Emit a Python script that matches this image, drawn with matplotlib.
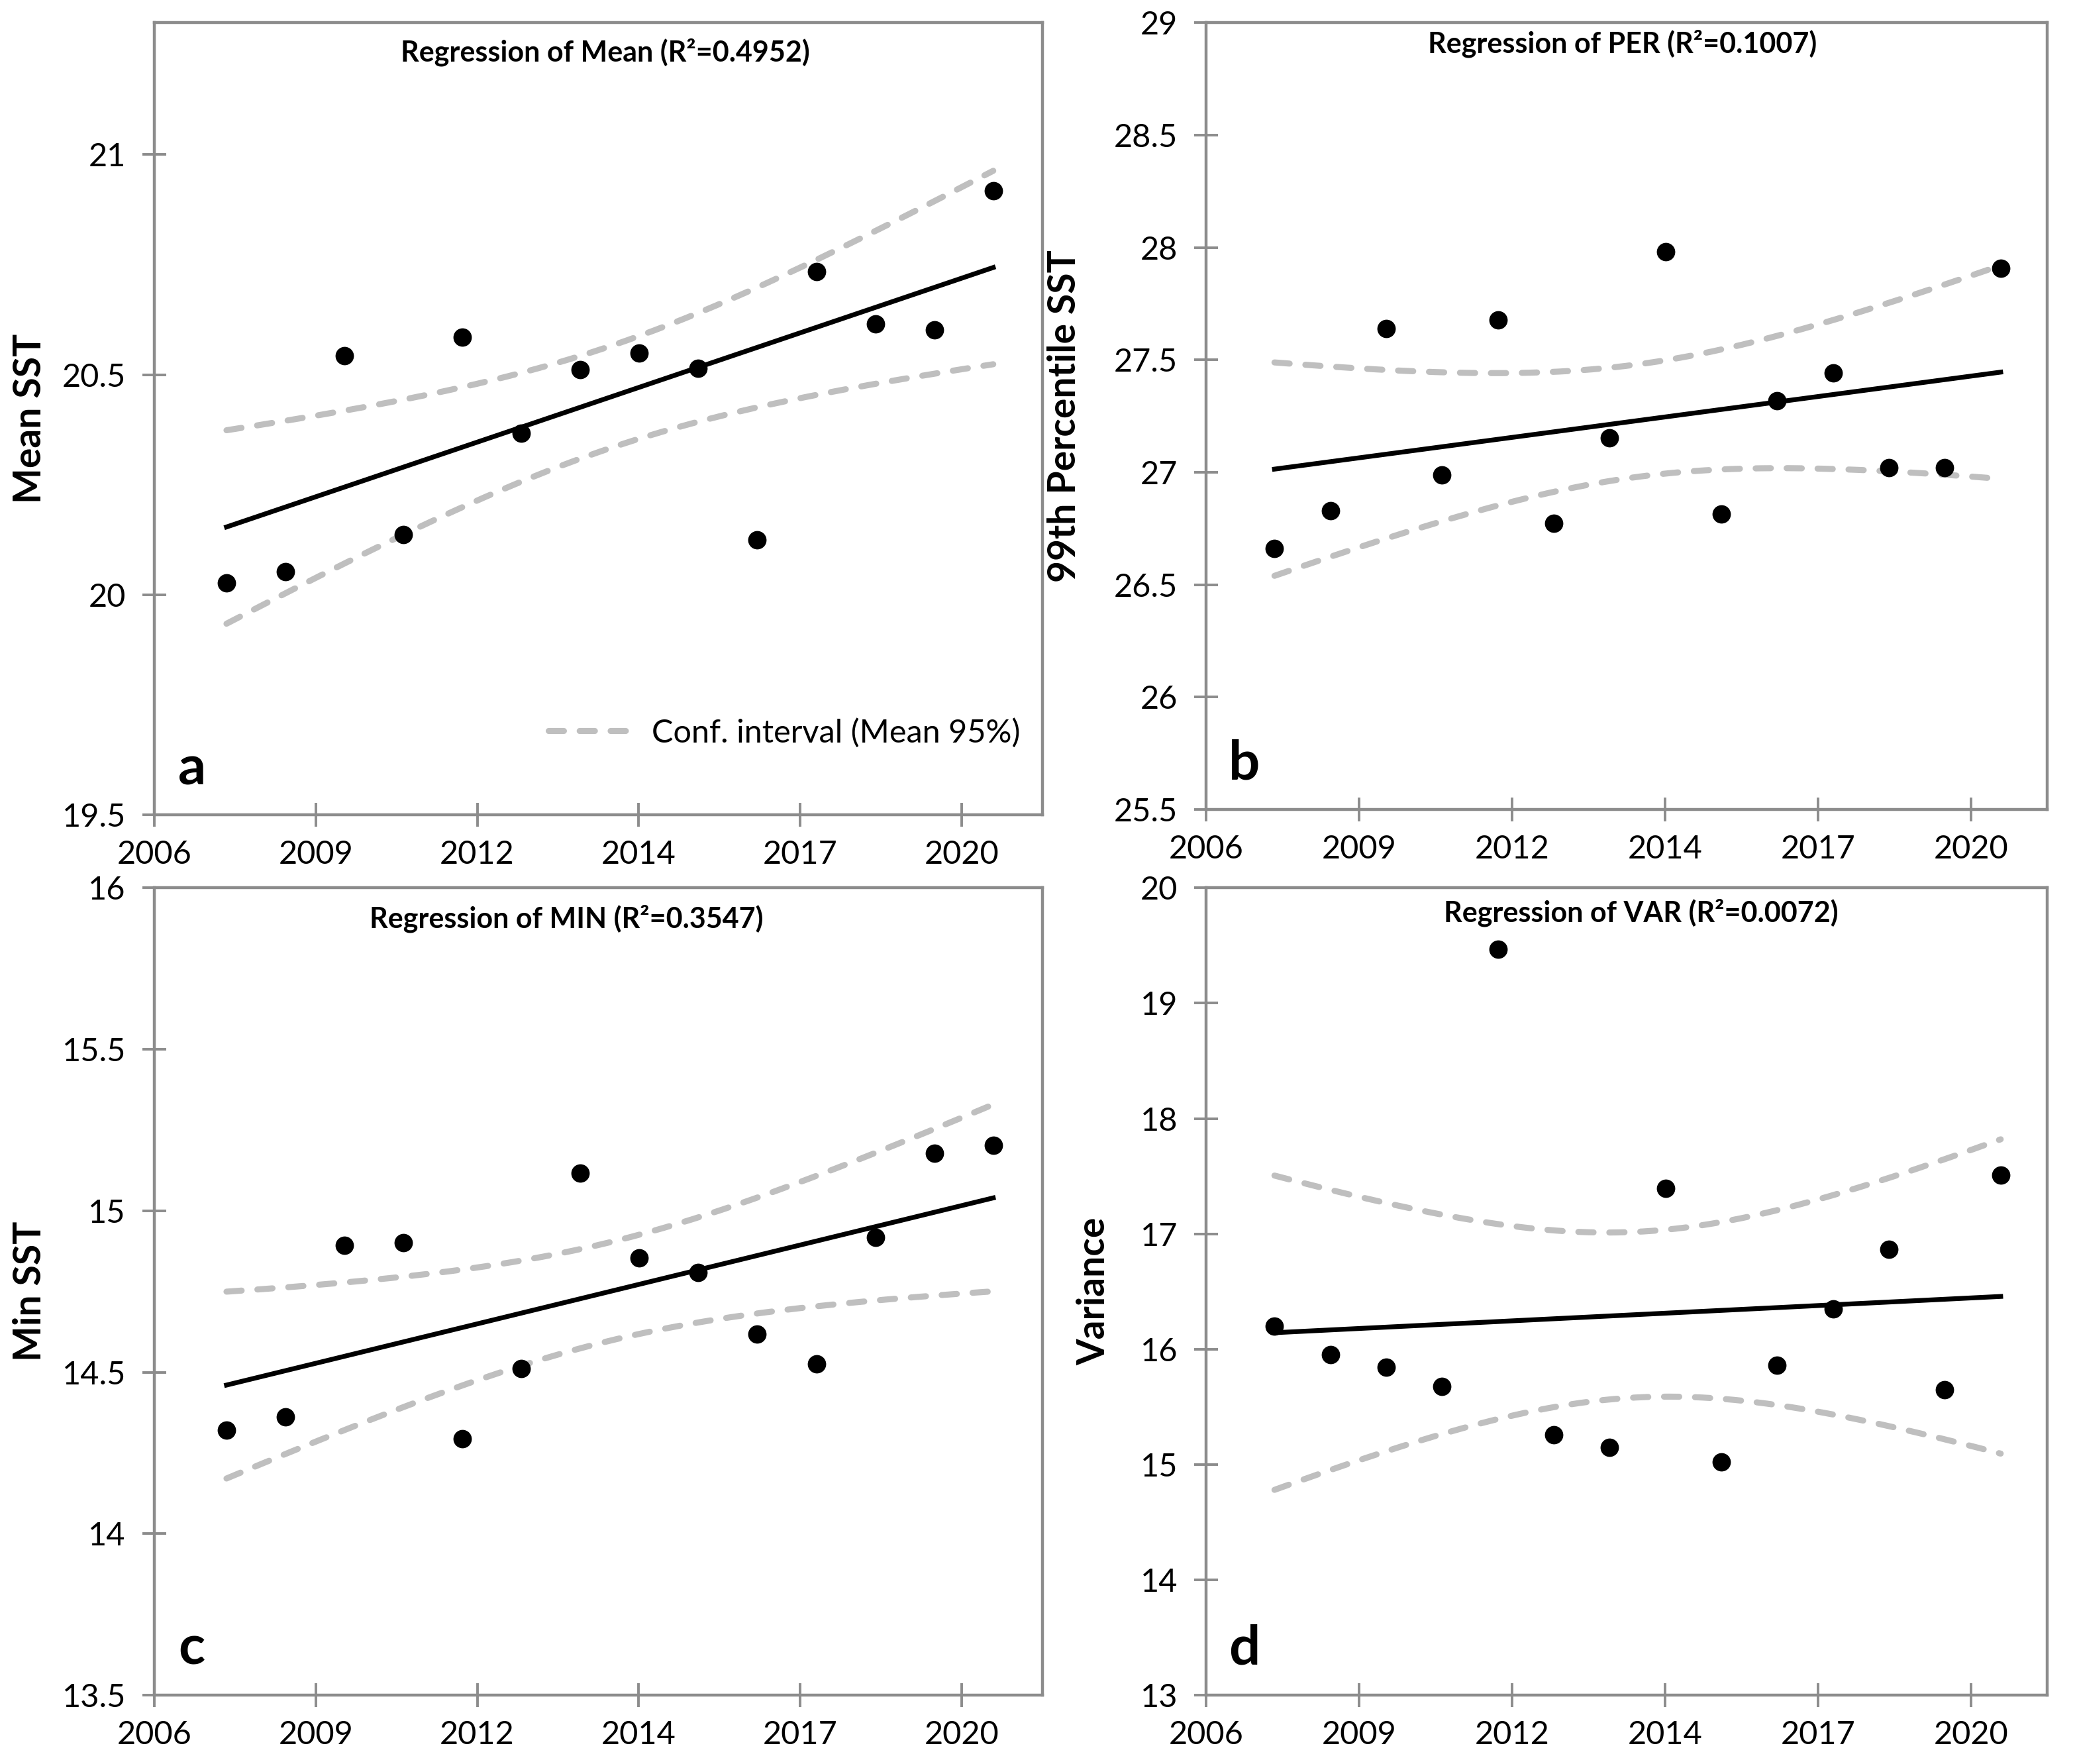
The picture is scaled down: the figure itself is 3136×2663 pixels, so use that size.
import numpy as np
import matplotlib
matplotlib.use("Agg")
import matplotlib.pyplot as plt
from matplotlib.ticker import FuncFormatter, MultipleLocator

plt.rcParams["font.family"] = ["Lato", "DejaVu Sans"]

# ---- values ----
years = [2007, 2008, 2009, 2010, 2011, 2012, 2013,
         2014, 2015, 2016, 2017, 2018, 2019, 2020]
mean_sst = [20.027, 20.053, 20.543, 20.137, 20.585, 20.367, 20.512,
            20.549, 20.515, 20.124, 20.734, 20.616, 20.602, 20.918]
per_sst = [26.660, 26.828, 27.638, 26.987, 27.676, 26.772, 27.152,
           27.982, 26.813, 27.317, 27.443, 27.020, 27.020, 27.906]
min_sst = [14.320, 14.361, 14.892, 14.902, 14.295, 14.512, 15.117,
           14.853, 14.808, 14.618, 14.526, 14.917, 15.178, 15.202]
var_sst = [16.199, 15.955, 15.846, 15.677, 19.466, 15.260, 15.151,
           17.395, 15.022, 15.861, 16.348, 16.864, 15.647, 17.509]

xtick_labels = ["2006", "2009", "2012", "2014", "2017", "2020"]
T_CRIT = 2.1788  # t(0.975, df=12)

panels = [
    dict(y=mean_sst, ylabel="Mean SST", letter="a",
         title="Regression of Mean (R\u00b2=0.4952)", ylim=(19.5, 21.3), step=0.5,
         rect=[0.0743, 0.5381, 0.4276, 0.4491], tx=0.508, ty=0.951, lx=-0.140),
    dict(y=per_sst, ylabel="99th Percentile SST", letter="b",
         title="Regression of PER (R\u00b2=0.1007)", ylim=(25.5, 29), step=0.5,
         rect=[0.5807, 0.5411, 0.4050, 0.4461], tx=0.495, ty=0.962, lx=-0.168),
    dict(y=min_sst, ylabel="Min SST", letter="c",
         title="Regression of MIN (R\u00b2=0.3547)", ylim=(13.5, 16), step=0.5,
         rect=[0.0743, 0.0390, 0.4276, 0.4577], tx=0.464, ty=0.951, lx=-0.140),
    dict(y=var_sst, ylabel="Variance", letter="d",
         title="Regression of VAR (R\u00b2=0.0072)", ylim=(13, 20), step=1,
         rect=[0.5807, 0.0390, 0.4050, 0.4577], tx=0.517, ty=0.958, lx=-0.133),
]

SPINE = "#8c8c8c"
CI_GREY = "#bfbfbf"

x = np.array(years, dtype=float)
tick_step = 1000 / 365.25            # Excel date axis, major unit 1000 days
x0 = x[0] - 447 / 365.25
xticks = x0 + tick_step * np.arange(len(xtick_labels))
xlim = (x0, x0 + 5.5 * tick_step)

fig = plt.figure(figsize=(15.68, 13.315), dpi=200)

for p in panels:
    ax = fig.add_axes(p["rect"])
    y = np.array(p["y"])

    # OLS fit and 95% confidence band of the mean
    slope, icpt = np.polyfit(x, y, 1)
    resid = y - (slope * x + icpt)
    s = np.sqrt(np.sum(resid ** 2) / (len(x) - 2))
    xf = np.linspace(x[0], x[-1], 200)
    yf = slope * xf + icpt
    half = T_CRIT * s * np.sqrt(1 / len(x) + (xf - x.mean()) ** 2 / np.sum((x - x.mean()) ** 2))

    dash = dict(color=CI_GREY, lw=3.3, ls=(0, (2.5, 2.6)), dash_capstyle="round", zorder=2)
    ax.plot(xf, yf + half, label="Conf. interval (Mean 95%)", **dash)
    ax.plot(xf, yf - half, **dash)
    ax.plot(xf, yf, color="black", lw=2.6, zorder=3)
    ax.plot(x, y, "o", color="black", ms=9, zorder=4)

    ax.set_xlim(*xlim)
    ax.set_ylim(*p["ylim"])
    ax.set_xticks(xticks)
    ax.set_xticklabels(xtick_labels)
    ax.yaxis.set_major_locator(MultipleLocator(p["step"]))
    ax.yaxis.set_major_formatter(FuncFormatter(lambda v, _: f"{v:g}"))

    for sp in ax.spines.values():
        sp.set_color(SPINE)
        sp.set_linewidth(1.6)
    ax.tick_params(direction="inout", length=13, width=1.4, color=SPINE,
                   labelsize=17.5, labelcolor="black")
    ax.tick_params(axis="x", pad=7)
    ax.tick_params(axis="y", pad=9)

    ax.set_ylabel(p["ylabel"], fontsize=20.5, fontweight="bold", va="center")
    ax.yaxis.set_label_coords(p["lx"], 0.5)

    ax.text(p["tx"], p["ty"], p["title"], transform=ax.transAxes,
            ha="center", va="baseline", fontsize=15.5, fontweight="bold")
    ax.text(0.027, 0.038, p["letter"], transform=ax.transAxes,
            ha="left", va="baseline", fontsize=30, fontweight="bold")

    if p["letter"] == "a":
        ax.legend(loc="lower right", bbox_to_anchor=(0.975, 0.085), frameon=False,
                  fontsize=17.5, handlelength=2.6, handletextpad=0.6,
                  borderpad=0, borderaxespad=0)

fig.savefig("out.png", dpi=200)
